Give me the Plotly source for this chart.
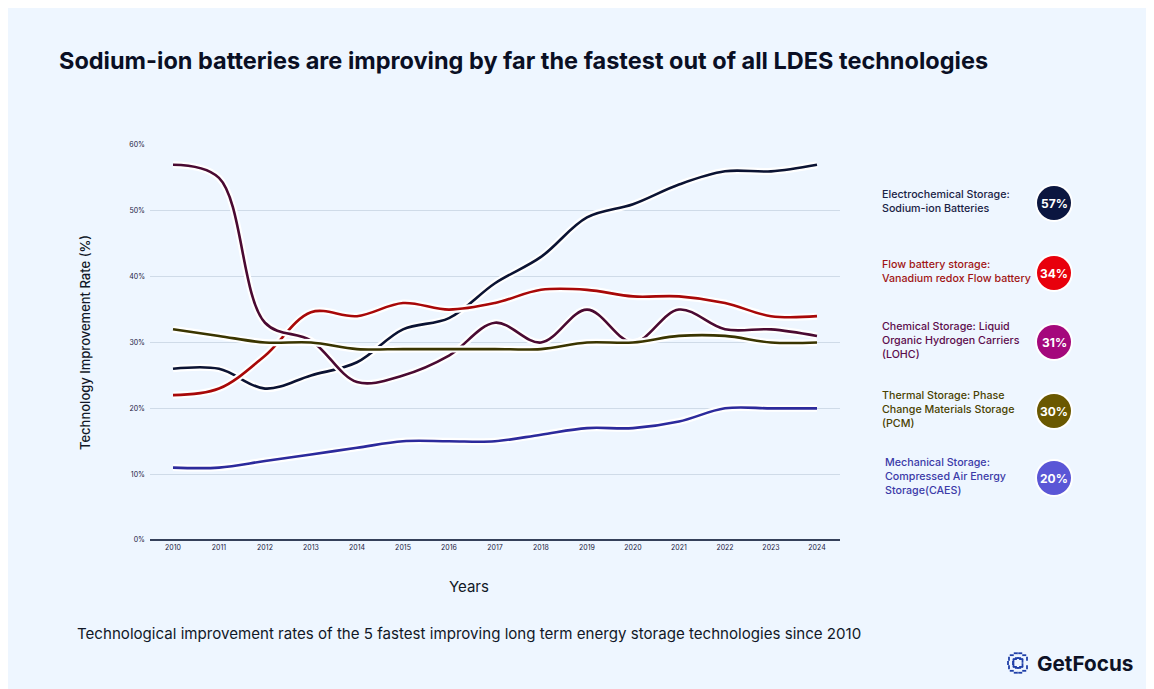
import plotly.graph_objects as go
import math

years = list(range(2010, 2025))
sodium = [26, 26, 23, 25, 27, 32, 33.7, 39, 43, 49, 51, 54, 56, 56, 57]
flow = [22, 23, 28, 34.6, 34, 36, 35, 36, 38, 38, 37, 37, 36, 34, 34]
lohc = [57, 55, 33, 30.3, 24, 25, 28, 33, 30, 35, 30, 35, 32, 32, 31]
pcm = [32, 31, 30, 30, 29, 29, 29, 29, 29, 30, 30, 31, 31, 30, 30]
caes = [11, 11, 12, 13, 14, 15, 15, 15, 16, 17, 17, 18, 20, 20, 20]

series_names = [
    "Electrochemical Storage:<br>Sodium-ion Batteries",
    "Flow battery storage:<br>Vanadium redox Flow battery",
    "Chemical Storage: Liquid<br>Organic Hydrogen Carriers<br>(LOHC)",
    "Thermal Storage: Phase<br>Change Materials Storage<br>(PCM)",
    "Mechanical Storage:<br>Compressed Air Energy<br>Storage(CAES)",
]
badge_labels = ["57%", "34%", "31%", "30%", "20%"]
y_ticks = [0, 10, 20, 30, 40, 50, 60]
y_tick_text = ["0%", "10%", "20%", "30%", "40%", "50%", "60%"]

line_colors = ["#0b1333", "#a80808", "#4a0a32", "#3a3500", "#2c2a9c"]
text_colors = ["#1a2245", "#a01414", "#5c0c4c", "#4a4200", "#3b3aa8"]
badge_colors = ["#0b1640", "#e8000c", "#a4087c", "#6a5800", "#5a56d6"]

OFF = 8  # page body margin
W, H = 1154 - OFF, 689 - OFF
L, R, T, B = 150 - OFF, 1154 - 840, 145 - OFF, 689 - 540
PW, PH = W - L - R, H - T - B


def px(x):
    return (x - OFF - L) / PW


def py(y):
    return (H - B - (y - OFF)) / PH


fig = go.Figure()
data = [sodium, flow, lohc, pcm, caes]
for vals, col in zip(data, line_colors):
    fig.add_trace(go.Scatter(x=years, y=vals, mode="lines",
                             line=dict(color="white", width=7, shape="spline", smoothing=1),
                             hoverinfo="skip", showlegend=False))
    fig.add_trace(go.Scatter(x=years, y=vals, mode="lines",
                             line=dict(color=col, width=2.6, shape="spline", smoothing=1),
                             showlegend=False))

shapes = []
annotations = []
FONT = "Inter"
annotations.append(dict(text="<b>Sodium-ion batteries are improving by far the fastest out of all LDES technologies</b>",
                        xref="paper", yref="paper", x=px(57), y=py(61), xanchor="left", yanchor="middle",
                        showarrow=False, font=dict(family=FONT, size=23.5, color="#0a0f24")))
annotations.append(dict(text="Technology Improvement Rate (%)", xref="paper", yref="paper",
                        x=px(85), y=py(343), textangle=-90, xanchor="center", yanchor="middle",
                        showarrow=False, font=dict(family=FONT, size=13, color="#111827", weight=500)))
annotations.append(dict(text="Years", xref="paper", yref="paper", x=px(469), y=py(586),
                        xanchor="center", yanchor="middle", showarrow=False,
                        font=dict(family=FONT, size=15, color="#111827")))
annotations.append(dict(text="Technological improvement rates of the 5 fastest improving long term energy storage technologies since 2010",
                        xref="paper", yref="paper", x=px(75), y=py(633), xanchor="left", yanchor="middle",
                        showarrow=False, font=dict(family=FONT, size=15.1, color="#111827")))

# legend entries
text_y = [201, 271, 340, 409, 476]
text_x = [880, 880, 880, 880, 883]
badge_y = [203, 273, 342, 411, 478]
for i in range(5):
    annotations.append(dict(text=series_names[i], xref="paper", yref="paper",
                            x=px(text_x[i]), y=py(text_y[i]), xanchor="left", yanchor="middle", align="left",
                            showarrow=False, font=dict(family=FONT, size=10.7, color=text_colors[i], weight=500)))
    r = 17
    cx, cy = 1054, badge_y[i]
    shapes.append(dict(type="circle", xref="paper", yref="paper",
                       x0=px(cx - r - 2), x1=px(cx + r + 2), y0=py(cy + r + 2), y1=py(cy - r - 2),
                       fillcolor="white", line=dict(width=0)))
    shapes.append(dict(type="circle", xref="paper", yref="paper",
                       x0=px(cx - r), x1=px(cx + r), y0=py(cy + r), y1=py(cy - r),
                       fillcolor=badge_colors[i], line=dict(width=0)))
    annotations.append(dict(text="<b>" + badge_labels[i] + "</b>", xref="paper", yref="paper",
                            x=px(cx), y=py(cy), xanchor="center", yanchor="middle", showarrow=False,
                            font=dict(family=FONT, size=12, color="white")))

# logo
annotations.append(dict(text="<b>GetFocus</b>", xref="paper", yref="paper", x=px(1035), y=py(663),
                        xanchor="left", yanchor="middle", showarrow=False,
                        font=dict(family=FONT, size=20.7, color="#0d1226")))
icx, icy = 1018, 663
for k in range(14):
    ang = 2 * math.pi * k / 14
    if abs(math.cos(ang) - 1) < 0.05:
        continue
    for rr in (5, 10):
        x0 = icx + rr * math.cos(ang)
        y0 = icy + rr * math.sin(ang)
        vertical = abs(math.cos(ang)) > 0.7
        dx, dy = (0, 2) if vertical else (2, 0)
        shapes.append(dict(type="line", xref="paper", yref="paper",
                           x0=px(x0 - dx), x1=px(x0 + dx), y0=py(y0 - dy), y1=py(y0 + dy),
                           line=dict(color="#1f3fa8", width=1.8)))

fig.update_layout(
    width=W, height=H,
    margin=dict(l=L, r=R, t=T, b=B),
    paper_bgcolor="#eef6ff", plot_bgcolor="#eef6ff",
    shapes=shapes, annotations=annotations,
    showlegend=False,
    font=dict(family=FONT),
    xaxis=dict(range=[2009.5, 2024.5], tickmode="array", tickvals=years,
               ticktext=[str(y) for y in years], showgrid=False, zeroline=False,
               showline=False, ticks="", tickfont=dict(size=7, color="#1a2040"), ticklabelstandoff=2),
    yaxis=dict(range=[0, 60], tickmode="array", tickvals=y_ticks, ticktext=y_tick_text,
               showgrid=True, gridcolor="#cfdbe8", gridwidth=1, zeroline=True, zerolinecolor="#34405a",
               zerolinewidth=1.5, showline=False, ticks="", tickfont=dict(size=7, color="#1a2040"),
               ticklabelstandoff=4),
)

fig.write_html("out.html")
